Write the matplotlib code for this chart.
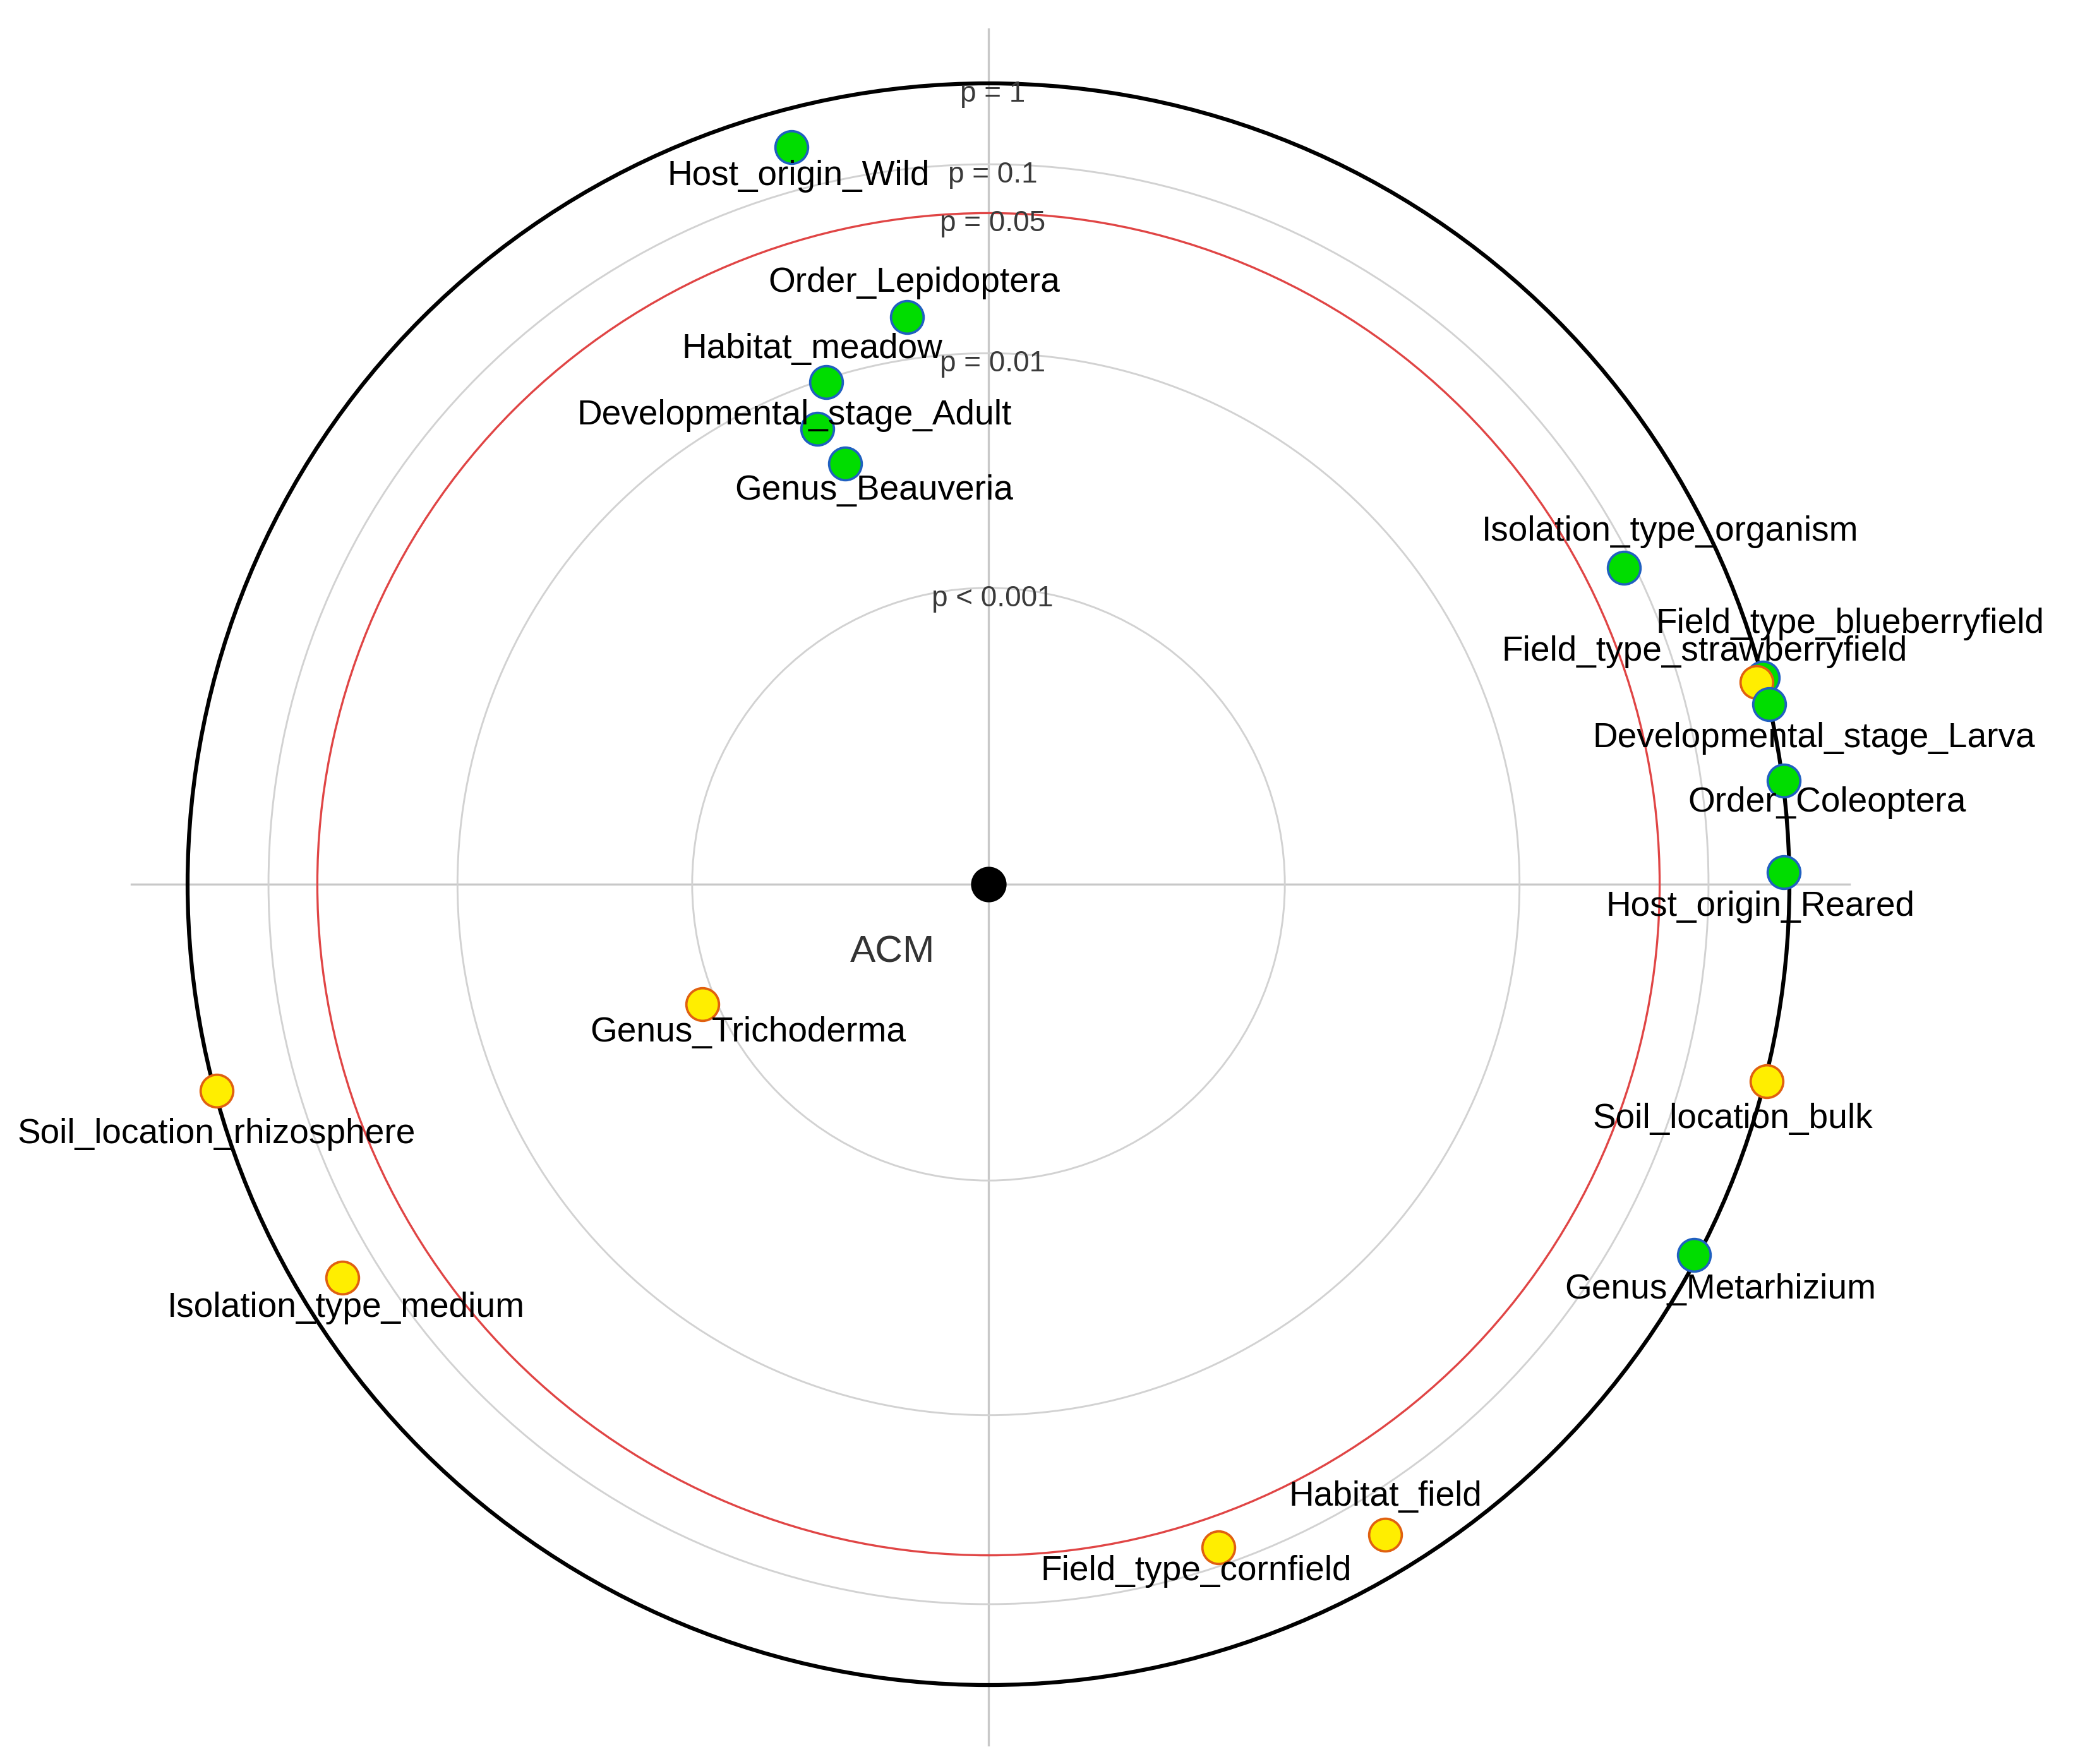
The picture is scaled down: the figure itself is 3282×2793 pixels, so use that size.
import numpy as np
import matplotlib
matplotlib.use("Agg")
import matplotlib.pyplot as plt
from matplotlib.patches import Circle

plt.rcParams["font.family"] = ["Liberation Sans", "DejaVu Sans"]

# ======================
# data (outer circle p = 1 has radius 1)
# ======================
ring_labels = ["p = 1", "p = 0.1", "p = 0.05", "p = 0.01", "p < 0.001"]
ring_radius = [1.0, 0.899, 0.838, 0.663, 0.370]

terms = [
    "Host_origin_Wild", "Order_Lepidoptera", "Habitat_meadow",
    "Developmental_stage_Adult", "Genus_Beauveria", "Isolation_type_organism",
    "Field_type_blueberryfield", "Field_type_strawberryfield",
    "Developmental_stage_Larva", "Order_Coleoptera", "Host_origin_Reared",
    "Soil_location_bulk", "Genus_Metarhizium", "Soil_location_rhizosphere",
    "Isolation_type_medium", "Field_type_cornfield", "Habitat_field",
    "Genus_Trichoderma",
]
x_pos = [-0.246, -0.102, -0.203, -0.214, -0.179, 0.793, 0.967, 0.959, 0.975,
         0.993, 0.993, 0.972, 0.881, -0.964, -0.807, 0.287, 0.495, -0.357]
y_pos = [0.920, 0.708, 0.627, 0.569, 0.525, 0.395, 0.258, 0.252, 0.225,
         0.129, 0.015, -0.246, -0.463, -0.258, -0.491, -0.828, -0.812, -0.150]
# positive / negative association
group = ["pos", "pos", "pos", "pos", "pos", "pos", "pos", "neg", "pos",
         "pos", "pos", "neg", "pos", "neg", "neg", "neg", "neg", "neg"]

# label nudges (like ggrepel output)
nudge = {
    "Host_origin_Wild": (0.009, -0.036),
    "Order_Lepidoptera": (0.009, 0.043),
    "Habitat_meadow": (-0.017, 0.041),
    "Developmental_stage_Adult": (-0.028, 0.016),
    "Genus_Beauveria": (0.036, -0.034),
    "Isolation_type_organism": (0.058, 0.045),
    "Field_type_blueberryfield": (0.109, 0.067),
    "Field_type_strawberryfield": (-0.065, 0.038),
    "Developmental_stage_Larva": (0.056, -0.043),
    "Order_Coleoptera": (0.054, -0.027),
    "Host_origin_Reared": (-0.029, -0.043),
    "Soil_location_bulk": (-0.043, -0.047),
    "Genus_Metarhizium": (0.033, -0.043),
    "Soil_location_rhizosphere": (0.0, -0.054),
    "Isolation_type_medium": (0.005, -0.038),
    "Field_type_cornfield": (-0.028, -0.030),
    "Habitat_field": (0.001, 0.047),
    "Genus_Trichoderma": (0.057, -0.035),
}

fill = {"pos": "#00DD00", "neg": "#FFEE00"}
edge = {"pos": "#2060C0", "neg": "#E06010"}

# ======================
# plot
# ======================
W, H = 3282, 2793
fig = plt.figure(figsize=(W / 300, H / 300), dpi=300)
ax = fig.add_axes([0, 0, 1, 1])
cx, cy, R = 1565, 1400, 1268
ax.set_xlim(-cx / R, (W - cx) / R)
ax.set_ylim((cy - H) / R, cy / R)
ax.axis("off")

# cross
ax.plot([-1.07, 1.075], [0, 0], color="#C8C8C8", lw=0.8, zorder=1)
ax.plot([0, 0], [-1.075, 1.068], color="#C8C8C8", lw=0.8, zorder=1)

for lab, r in zip(ring_labels, ring_radius):
    if lab == "p = 1":
        col, lw = "black", 1.5
    elif lab == "p = 0.05":
        col, lw = "#E04545", 0.8
    else:
        col, lw = "#D2D2D2", 0.7
    ax.add_patch(Circle((0, 0), r, fill=False, ec=col, lw=lw, zorder=2))
    ax.text(0.005, r + 0.004, lab, ha="center", va="top", fontsize=11,
            color="#3A3A3A", zorder=6)

ax.plot(0, 0, "o", color="black", ms=12.5, zorder=4)
ax.text(-0.12, -0.085, "ACM", ha="center", va="center", fontsize=14.5,
        color="#333333", zorder=6)

for t, x, y, g in zip(terms, x_pos, y_pos, group):
    ax.plot(x, y, "o", ms=12.4, mfc=fill[g], mec=edge[g], mew=0.9, zorder=5)
    dx, dy = nudge[t]
    ax.text(x + dx, y + dy, t, ha="center", va="center", fontsize=13.2,
            color="black", zorder=7)

plt.savefig("out.png", dpi=300)
